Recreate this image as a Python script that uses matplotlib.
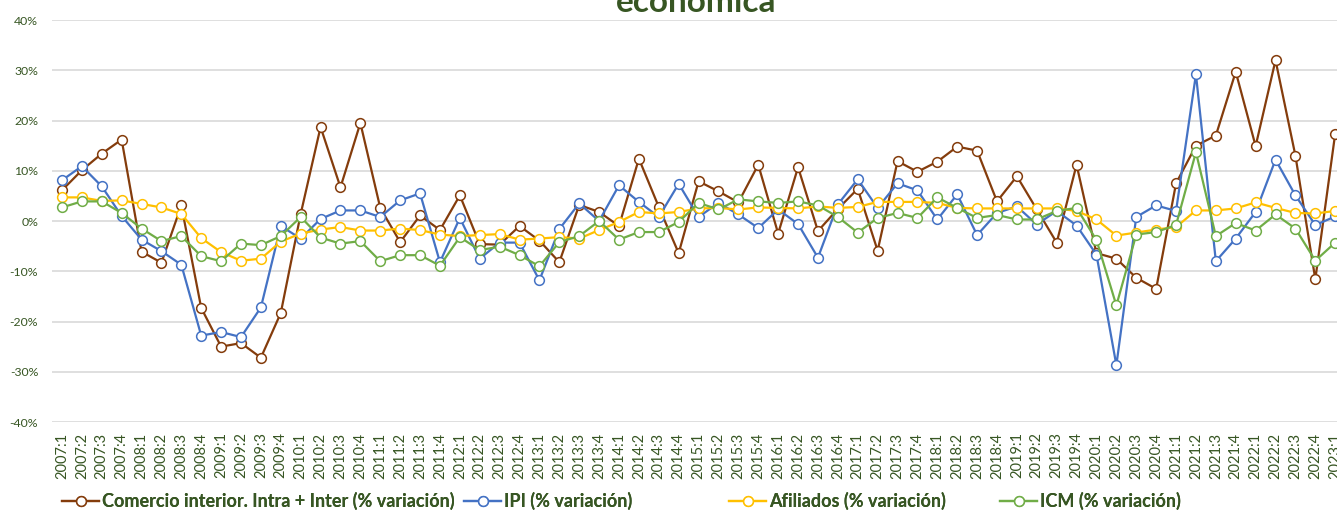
import matplotlib.pyplot as plt
from matplotlib.ticker import FuncFormatter

plt.rcParams['font.family'] = ['Lato', 'DejaVu Sans']

years = list(range(2007, 2024))
trimestres = [f"{y}:{q}" for y in years for q in range(1, 5)][:65]

# % variación interanual por trimestre
comercio = [6.1, 10.1, 13.4, 16.2, -6.1, -8.3, 3.1, -17.3, -25.0, -24.3, -27.2,
            -18.3, 1.4, 18.7, 6.7, 19.5, 2.6, -4.2, 1.1, -1.8, 5.1, -4.6,
            -4.7, -1.0, -3.9, -8.2, 3.2, 1.8, -1.0, 12.4, 2.8, -6.4, 7.9,
            5.9, 3.7, 11.2, -2.5, 10.7, -2.0, 2.4, 6.4, -5.9, 11.9, 9.8,
            11.8, 14.8, 14.0, 3.9, 8.9, 2.3, -4.3, 11.2, -6.4, -7.5, -11.3,
            -13.5, 7.5, 15.0, 17.0, 29.7, 14.9, 32.0, 13.0, -11.6, 17.4]
ipi = [8.1, 10.9, 6.9, 1.0, -3.7, -6.0, -8.7, -22.8, -22.1, -23.1, -17.2,
       -1.0, -3.5, 0.4, 2.1, 2.1, 0.8, 4.1, 5.5, -8.2, 0.6, -7.5,
       -4.3, -4.3, -11.8, -1.6, 3.5, 0.0, 7.1, 3.8, 0.8, 7.4, 0.8,
       3.6, 1.3, -1.4, 2.3, -0.6, -7.3, 3.3, 8.3, 2.6, 7.5, 6.1,
       0.3, 5.3, -2.8, 1.6, 2.9, -0.7, 2.0, -0.9, -6.7, -28.7, 0.8,
       3.1, 2.0, 29.2, -8.0, -3.5, 1.8, 12.2, 5.1, -0.8, 0.9]
afiliados = [4.7, 4.7, 4.0, 4.1, 3.4, 2.7, 1.4, -3.4, -6.2, -7.9, -7.5,
             -4.1, -2.5, -1.7, -1.2, -1.9, -1.9, -1.5, -1.8, -2.7, -3.0, -2.8,
             -2.6, -3.7, -3.5, -3.2, -3.5, -1.8, -0.2, 1.8, 1.5, 1.8, 2.5,
             2.6, 2.3, 2.7, 2.6, 2.5, 2.9, 2.6, 2.8, 3.8, 3.8, 3.8,
             3.6, 2.6, 2.5, 2.5, 2.5, 2.5, 2.5, 2.0, 0.3, -2.9, -2.3,
             -1.7, -1.2, 2.1, 2.1, 2.5, 3.7, 2.6, 1.6, 1.5, 2.0]
icm = [2.7, 3.9, 3.9, 1.6, -1.5, -4.0, -3.0, -7.0, -8.0, -4.5, -4.8,
       -3.0, 0.8, -3.3, -4.5, -4.0, -8.0, -6.8, -6.8, -8.9, -3.2, -5.8,
       -5.1, -6.8, -9.0, -4.2, -3.0, 0.0, -3.7, -2.2, -2.2, -0.2, 3.6,
       2.3, 4.3, 3.9, 3.6, 3.9, 3.1, 0.8, -2.3, 0.6, 1.6, 0.6,
       4.7, 2.6, 0.6, 1.2, 0.3, 0.3, 2.0, 2.6, -3.8, -16.8, -2.7,
       -2.2, -0.8, 13.7, -3.0, -0.4, -1.9, 1.3, -1.5, -7.9, -4.3]

series = [
    ("Comercio interior. Intra + Inter (% variación)", comercio, "#843C0C"),
    ("IPI (% variación)", ipi, "#4472C4"),
    ("Afiliados (% variación)", afiliados, "#FFC000"),
    ("ICM (% variación)", icm, "#70AD47"),
]
texto = "#375623"

fig = plt.figure(figsize=(13.37, 5.11), dpi=100)
ax = fig.add_axes([52 / 1337, 1 - 422 / 511, 1 - 52 / 1337, 402 / 511])

x = list(range(len(trimestres)))
lines = []
for nombre, valores, color in series:
    ln, = ax.plot(x, valores, color=color, linewidth=1.6, marker="o",
                  markersize=7, markerfacecolor="white",
                  markeredgecolor=color, markeredgewidth=1.1, label=nombre)
    lines.append(ln)

ax.set_ylim(-40, 40)
ax.set_yticks(range(-40, 41, 10))
ax.yaxis.set_major_formatter(FuncFormatter(lambda v, p: f"{v:.0f}%"))
ax.set_xlim(-0.5, 64.09)
ax.set_xticks(x)
ax.set_xticklabels(trimestres, rotation=90)
ax.grid(axis="y", color="#D9D9D9", linewidth=1.2)
ax.set_axisbelow(True)
for s in ax.spines.values():
    s.set_visible(False)
ax.tick_params(axis="both", length=0, colors=texto)
ax.tick_params(axis="y", pad=10, labelsize=8.8)
ax.tick_params(axis="x", pad=7.5, labelsize=10.5)

fig.text(0.521, 1 - 11.5 / 511, "económica", ha="center", va="baseline",
         fontsize=24, fontweight="bold", color=texto)

# leyenda en la parte inferior, una entrada por posición
anclas = [62, 464, 729, 1000]
for ln, px in zip(lines, anclas):
    leg = fig.legend(handles=[ln], loc="center left",
                     bbox_to_anchor=(px / 1337, 1 - 501 / 511),
                     frameon=False, fontsize=13, handlelength=2.05,
                     handletextpad=0.17, borderpad=0, borderaxespad=0)
    for t in leg.get_texts():
        t.set_color(texto)
        t.set_fontweight("bold")
    fig.add_artist(leg)

plt.savefig("out.png", dpi=100)
